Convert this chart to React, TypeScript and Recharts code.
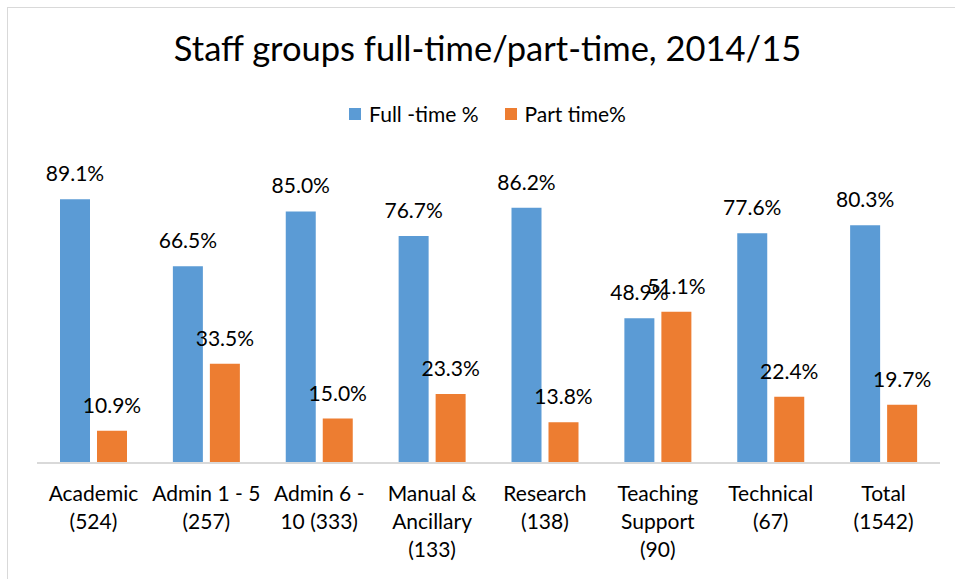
import React from "react";
import { BarChart, Bar, XAxis, YAxis, Legend, LabelList } from "recharts";

const categories = [
  "Academic\n(524)",
  "Admin 1 - 5\n(257)",
  "Admin 6 -\n10 (333)",
  "Manual &\nAncillary\n(133)",
  "Research\n(138)",
  "Teaching\nSupport\n(90)",
  "Technical\n(67)",
  "Total\n(1542)",
];
const fullTime = [89.1, 66.5, 85.0, 76.7, 86.2, 48.9, 77.6, 80.3];
const partTime = [10.9, 33.5, 15.0, 23.3, 13.8, 51.1, 22.4, 19.7];

const FONT = "Lato, 'Open Sans', sans-serif";
const BLUE = "#5B9BD5";
const ORANGE = "#ED7D31";

const data = categories.map((name, i) => ({
  name,
  full: fullTime[i],
  part: partTime[i],
}));

const CategoryTick = (props: any) => {
  const { x, y, payload } = props;
  const lines = String(payload.value).split("\n");
  return (
    <text x={x} y={y} textAnchor="middle" fill="#000" fontSize={21} fontFamily={FONT}>
      {lines.map((line, i) => (
        <tspan key={i} x={x} dy={i === 0 ? 38 : 28}>
          {line}
        </tspan>
      ))}
    </text>
  );
};

const LegendBox = (props: any) => {
  const items = props.payload || [];
  return (
    <div style={{ display: "flex", justifyContent: "center", fontFamily: FONT, fontSize: 21, color: "#000" }}>
      {items.map((it: any, i: number) => (
        <div key={i} style={{ display: "flex", alignItems: "center", marginRight: i === 0 ? 26 : 0 }}>
          <span style={{ width: 12, height: 12, background: it.color, display: "inline-block", marginRight: 8 }} />
          <span>{it.value}</span>
        </div>
      ))}
    </div>
  );
};

const fmt = (v: any) => `${Number(v).toFixed(1)}%`;

export default function App() {
  return (
    <div
      style={{
        position: "fixed",
        left: 7,
        top: 7,
        width: 948,
        height: 572,
        borderLeft: "1px solid #d9d9d9",
        borderTop: "1px solid #d9d9d9",
        background: "#fff",
        boxSizing: "border-box",
      }}
    >
      <div
        style={{
          position: "absolute",
          top: 19,
          left: 12,
          width: 935,
          textAlign: "center",
          fontFamily: FONT,
          fontSize: 34.5,
          color: "#000",
        }}
      >
        Staff groups full-time/part-time, 2014/15
      </div>
      <BarChart
        width={947}
        height={571}
        data={data}
        margin={{ top: 159, right: 15, bottom: 115, left: 29 }}
        barGap={7}
        barSize={30}
      >
        <XAxis
          dataKey="name"
          height={1}
          axisLine={{ stroke: "#d9d9d9", strokeWidth: 2 }}
          tickLine={false}
          tickSize={0}
          tickMargin={0}
          interval={0}
          tick={<CategoryTick />}
        />
        <YAxis hide domain={[0, 100]} />
        <Legend
          verticalAlign="top"
          content={<LegendBox />}
          wrapperStyle={{ top: 93, left: 12, width: 935, height: 0, overflow: "visible" }}
        />
        <Bar dataKey="full" name="Full -time %" fill={BLUE} isAnimationActive={false}>
          <LabelList dataKey="full" position="top" offset={18} formatter={fmt} fill="#000" fontSize={21} fontFamily={FONT} />
        </Bar>
        <Bar dataKey="part" name="Part time%" fill={ORANGE} isAnimationActive={false}>
          <LabelList dataKey="part" position="top" offset={18} formatter={fmt} fill="#000" fontSize={21} fontFamily={FONT} />
        </Bar>
      </BarChart>
    </div>
  );
}
